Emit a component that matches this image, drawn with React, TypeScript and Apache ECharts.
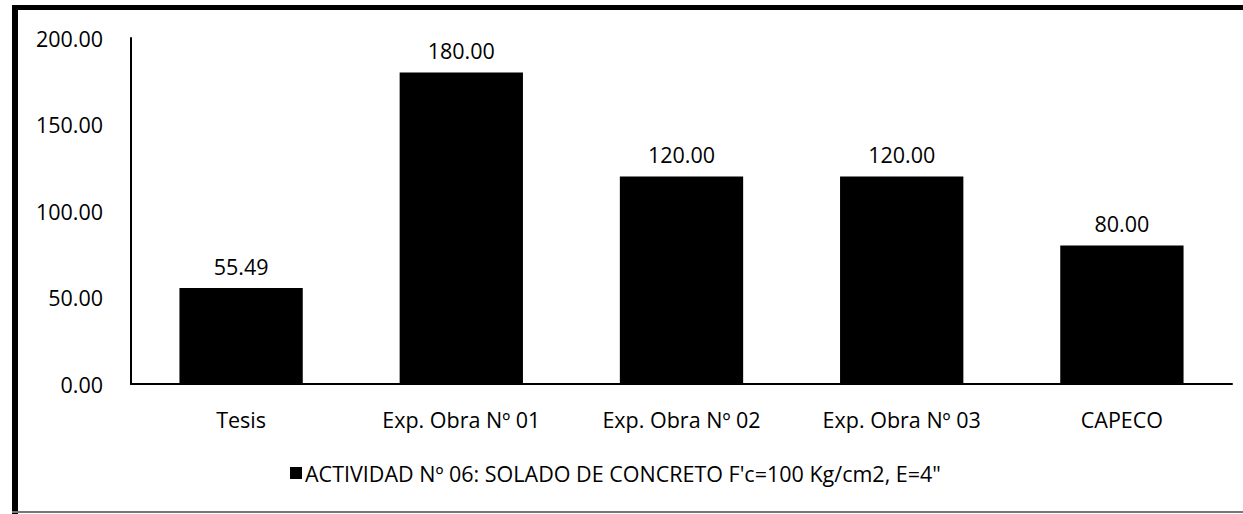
import React, { useEffect, useRef } from "react";
import * as echarts from "echarts";

const categories = ["Tesis", "Exp. Obra Nº 01", "Exp. Obra Nº 02", "Exp. Obra Nº 03", "CAPECO"];
const values = [55.49, 180.0, 120.0, 120.0, 80.0];
const seriesName = "ACTIVIDAD Nº 06: SOLADO DE CONCRETO F'c=100 Kg/cm2, E=4\"";
const FONT = "Open Sans";
const FS = 21.5;

export default function App() {
  const ref = useRef<HTMLDivElement>(null);
  useEffect(() => {
    if (!ref.current) return;
    const chart = echarts.init(ref.current, null, { renderer: "svg" });
    chart.setOption({
      animation: false,
      backgroundColor: "#fff",
      textStyle: { fontFamily: FONT, color: "#000" },
      grid: { left: 131, right: 11, top: 38, bottom: 130, containLabel: false },
      legend: {
        show: true,
        left: 285,
        top: 457,
        itemWidth: 12,
        itemHeight: 12,
        itemGap: 6,
        icon: "rect",
        textStyle: { fontFamily: FONT, fontSize: FS, color: "#000", padding: [0, 0, 0, -2] },
        data: [seriesName],
      },
      xAxis: {
        type: "category",
        data: categories,
        axisLine: { lineStyle: { color: "#000", width: 2 } },
        axisTick: { show: false },
        axisLabel: { color: "#000", fontFamily: FONT, fontSize: FS, margin: 24 },
      },
      yAxis: {
        type: "value",
        min: 0,
        max: 200,
        interval: 50,
        axisLine: { show: true, lineStyle: { color: "#000", width: 2 } },
        axisTick: { show: false },
        splitLine: { show: false },
        axisLabel: {
          color: "#000",
          fontFamily: FONT,
          fontSize: FS,
          margin: 28,
          formatter: (v: number) => v.toFixed(2),
        },
      },
      series: [
        {
          name: seriesName,
          type: "bar",
          data: values,
          barCategoryGap: "44%",
          itemStyle: { color: "#000" },
          label: {
            show: true,
            position: "top",
            distance: 11,
            color: "#000",
            fontFamily: FONT,
            fontSize: FS,
            formatter: (p: any) => Number(p.value).toFixed(2),
          },
        },
      ],
      graphic: [
        { type: "rect", shape: { x: 12, y: 5, width: 1231, height: 5 }, style: { fill: "#000" } },
        { type: "rect", shape: { x: 12, y: 5, width: 6, height: 509 }, style: { fill: "#000" } },
        { type: "rect", shape: { x: 12, y: 511, width: 1231, height: 2 }, style: { fill: "#777" } },
      ],
    });
    return () => chart.dispose();
  }, []);
  return (
    <div
      ref={ref}
      style={{ position: "absolute", left: 0, top: 0, width: 1243, height: 514 }}
    />
  );
}
